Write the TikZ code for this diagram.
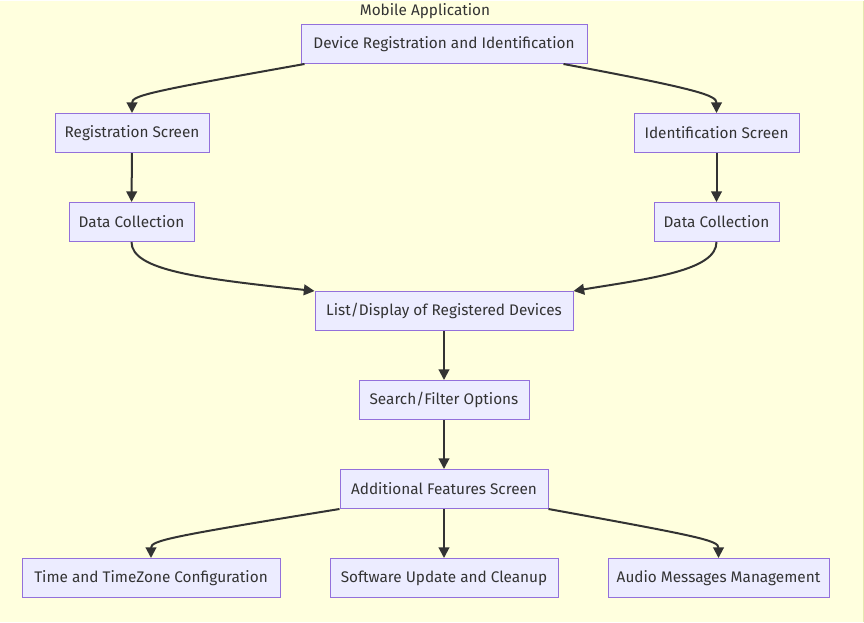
\documentclass[tikz,border=0pt]{standalone}
\usepackage{fontspec}
\setmainfont{Fira Sans}
\usetikzlibrary{arrows.meta}
\definecolor{bgc}{HTML}{FFFFDE}
\definecolor{bgline}{HTML}{E6E6B0}
\definecolor{nfill}{HTML}{ECECFF}
\definecolor{nline}{HTML}{9370DB}
\definecolor{ink}{HTML}{333333}
\tikzset{
  box/.style={draw=nline, fill=nfill, line width=0.75pt, text=ink, inner sep=0pt,
    minimum height=29.25pt, font=\fontsize{11.5pt}{13.5pt}\selectfont},
  conn/.style={draw=ink, line width=1.5pt, -{Triangle[length=8pt,width=8pt]}},
}
\begin{document}
\begin{tikzpicture}[x=0.75pt,y=-0.75pt]
\fill[bgc] (0,0) rectangle (864,621);
\draw[bgline, line width=0.75pt] (863.5,0) -- (863.5,621);
\useasboundingbox (0,0) rectangle (864,621);
\node[text=ink, font=\fontsize{11.5pt}{13.5pt}\selectfont] (title) at (425,11) {Mobile Application};
\node[box, minimum width=214.5pt] (dev) at (444,43.5) {Device Registration and Identification};
\node[box, minimum width=115.5pt] (reg) at (132,132.5) {Registration Screen};
\node[box, minimum width=123.75pt] (ids) at (716.5,132.5) {Identification Screen};
\node[box, minimum width=93.75pt] (dcl) at (131.5,221.5) {Data Collection};
\node[box, minimum width=93.75pt] (dcr) at (716.5,221.5) {Data Collection};
\node[box, minimum width=193.5pt] (list) at (444,310.5) {List/Display of Registered Devices};
\node[box, minimum width=127.5pt] (srch) at (444,399.5) {Search/Filter Options};
\node[box, minimum width=156pt] (add) at (444,488.5) {Additional Features Screen};
\node[box, minimum width=193.5pt] (time) at (151,577.5) {Time and TimeZone Configuration};
\node[box, minimum width=171pt] (soft) at (444,577.5) {Software Update and Cleanup};
\node[box, minimum width=165.75pt] (audio) at (718.5,577.5) {Audio Messages Management};

\draw[conn] ([xshift=3pt]dev.south west) .. controls (150,91) and (132,95) .. (reg.north);
\draw[conn] ([xshift=-18pt]dev.south east) .. controls (700,89) and (716.5,95) .. (ids.north);
\draw[conn] (reg) -- (dcl);
\draw[conn] (ids) -- (dcr);
\draw[conn] (dcl.south) .. controls (131.5,270) and (200,278) .. (list.north west);
\draw[conn] (dcr.south) .. controls (716.5,270) and (650,278) .. (list.north east);
\draw[conn] (list) -- (srch);
\draw[conn] (srch) -- (add);
\draw[conn] (add.south west) .. controls (170,536) and (151,540) .. (time.north);
\draw[conn] (add) -- (soft);
\draw[conn] (add.south east) .. controls (700,536) and (718.5,540) .. (audio.north);
\end{tikzpicture}
\end{document}
